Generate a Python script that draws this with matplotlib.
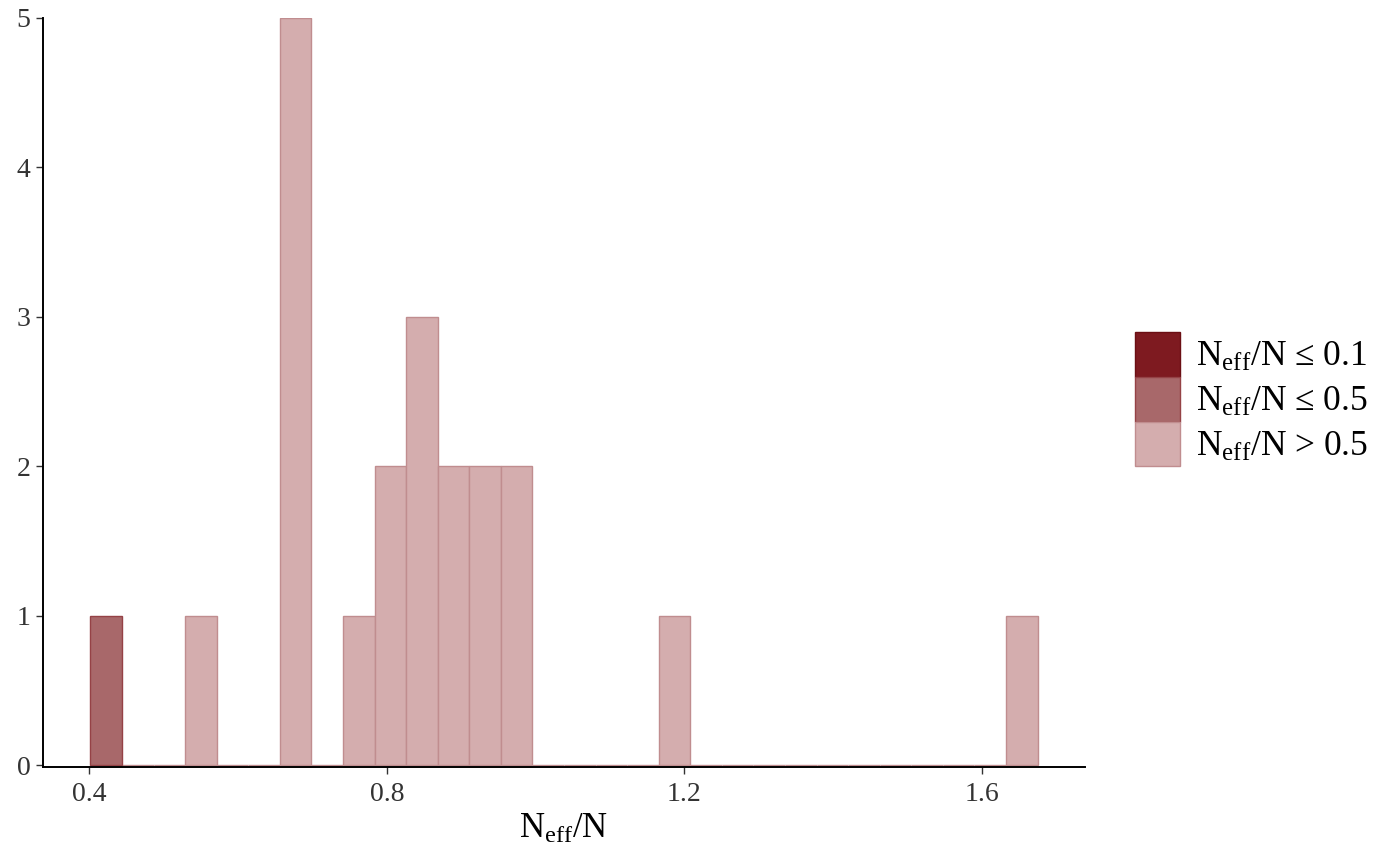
"""Recreate the N_eff/N histogram (bayesplot style) with matplotlib."""

import matplotlib
import matplotlib.pyplot as plt
import numpy as np
from matplotlib.patches import Patch

matplotlib.use("Agg")
plt.rcParams["font.family"] = ["Liberation Serif", "DejaVu Serif"]
plt.rcParams["mathtext.fontset"] = "custom"
plt.rcParams["mathtext.rm"] = "Liberation Serif"
plt.rcParams["mathtext.it"] = "Liberation Serif:italic"

# effective sample size ratios, one per parameter
neff_ratio = [
    0.4013, 0.545, 0.67, 0.67, 0.68, 0.69, 0.69, 0.76, 0.79, 0.81, 0.83,
    0.84, 0.86, 0.88, 0.90, 0.92, 0.94, 0.96, 0.98, 1.19, 1.675,
]
n_bins = 30

group_labels = [
    r"N$_\mathrm{eff}$/N ≤ 0.1",
    r"N$_\mathrm{eff}$/N ≤ 0.5",
    r"N$_\mathrm{eff}$/N > 0.5",
]
group_fill = ["#7e1a20", "#a8686a", "#d4adae"]
group_edge = ["#6b0f14", "#954246", "#c08d8f"]

ratio = np.array(neff_ratio)
edges = np.linspace(ratio.min(), ratio.max(), n_bins + 1)
width = edges[1] - edges[0]
groups = [ratio <= 0.1, (ratio > 0.1) & (ratio <= 0.5), ratio > 0.5]

fig = plt.figure(figsize=(14, 8.66), dpi=100)
ax = fig.add_axes([43 / 1400, 99 / 866, 1042 / 1400, 749 / 866])

# light group first (all bins, zero bins show as a baseline), then darker ones
for idx in [2, 1, 0]:
    counts, _ = np.histogram(ratio[groups[idx]], bins=edges)
    if idx != 2:
        keep = counts > 0
    else:
        keep = np.ones_like(counts, dtype=bool)
    ax.bar(
        edges[:-1][keep], counts[keep], width=width, align="edge",
        color=group_fill[idx], edgecolor=group_edge[idx], linewidth=1.0,
    )

pad = 0.05 * (edges[-1] - edges[0])
ax.set_xlim(edges[0] - pad, edges[-1] + pad)
ax.set_ylim(-0.013, 5.0)
ax.set_xticks([0.4, 0.8, 1.2, 1.6])
ax.set_xticklabels(["0.4", "0.8", "1.2", "1.6"])
ax.set_yticks([0, 1, 2, 3, 4, 5])

for side in ["top", "right"]:
    ax.spines[side].set_visible(False)
for side in ["left", "bottom"]:
    ax.spines[side].set_linewidth(1.4)
ax.tick_params(axis="both", labelsize=20, colors="#333333", length=5, width=1)
ax.tick_params(axis="x", pad=6)
ax.tick_params(axis="y", pad=4)
ax.set_xlabel(r"N$_\mathrm{eff}$/N", fontsize=25, labelpad=4)

handles = [
    Patch(facecolor=f, edgecolor=e, linewidth=1.0)
    for f, e in zip(group_fill, group_edge)
]
fig.legend(
    handles, group_labels, loc="center left", bbox_to_anchor=(1135 / 1400, 0.539),
    frameon=False, fontsize=25.5, handlelength=1.27, handleheight=1.56,
    handletextpad=0.45, labelspacing=0.0, borderaxespad=0, borderpad=0,
)

fig.savefig("out.png", dpi=100)
